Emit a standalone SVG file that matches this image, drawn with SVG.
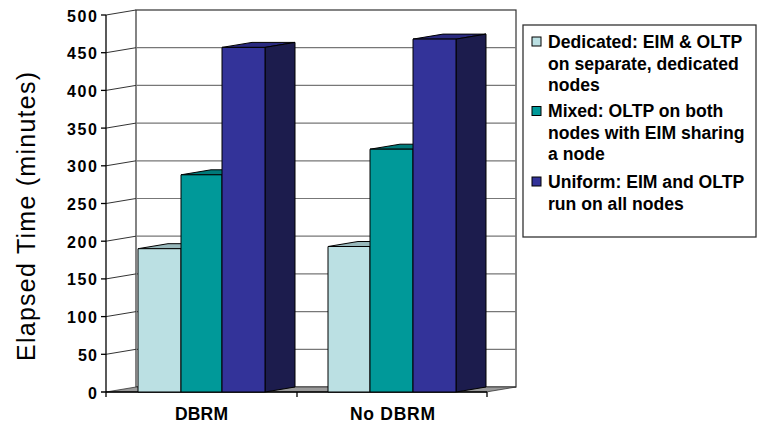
<svg xmlns="http://www.w3.org/2000/svg" width="759" height="424" viewBox="0 0 759 424">
<style>
.grid{stroke:#777;stroke-width:1.2;fill:none}
.wallgrid{stroke:#333;stroke-width:1;fill:none}
.axis{stroke:#000;stroke-width:1.3;fill:none}
.bar{stroke:#000;stroke-width:1;stroke-linejoin:round}
.num{font-family:"Liberation Sans",Arial,sans-serif;font-weight:bold;font-size:16px;fill:#000}
.cat{font-family:"Liberation Sans",Arial,sans-serif;font-weight:bold;font-size:17.5px;fill:#000}
.leg{font-family:"Liberation Sans",Arial,sans-serif;font-weight:bold;font-size:17.6px;fill:#000}
.title{font-family:"Liberation Sans",Arial,sans-serif;font-size:25px;fill:#000}
.c1{fill:#BBE0E3}.c1t{fill:#98b8bb}
.c2{fill:#009999}.c2t{fill:#007a7a}
.c3{fill:#333399}.c3t{fill:#2a2a80}.c3s{fill:#1c1c4d}
</style>
<rect width="759" height="424" fill="#fff"/>

<g id="walls">
  <rect x="136" y="10" width="380" height="377" fill="#fff" stroke="#333" stroke-width="1.2"/>
  <g class="grid">
    <line x1="136" y1="349.3" x2="516" y2="349.3"/>
    <line x1="136" y1="311.6" x2="516" y2="311.6"/>
    <line x1="136" y1="273.9" x2="516" y2="273.9"/>
    <line x1="136" y1="236.2" x2="516" y2="236.2"/>
    <line x1="136" y1="198.5" x2="516" y2="198.5"/>
    <line x1="136" y1="160.8" x2="516" y2="160.8"/>
    <line x1="136" y1="123.1" x2="516" y2="123.1"/>
    <line x1="136" y1="85.4" x2="516" y2="85.4"/>
    <line x1="136" y1="47.7" x2="516" y2="47.7"/>
  </g>
  <g class="wallgrid">
    <line x1="106" y1="354.3" x2="136" y2="349.3"/>
    <line x1="106" y1="316.6" x2="136" y2="311.6"/>
    <line x1="106" y1="278.9" x2="136" y2="273.9"/>
    <line x1="106" y1="241.2" x2="136" y2="236.2"/>
    <line x1="106" y1="203.5" x2="136" y2="198.5"/>
    <line x1="106" y1="165.8" x2="136" y2="160.8"/>
    <line x1="106" y1="128.1" x2="136" y2="123.1"/>
    <line x1="106" y1="90.4" x2="136" y2="85.4"/>
    <line x1="106" y1="52.7" x2="136" y2="47.7"/>
    <line x1="106" y1="15" x2="136" y2="10"/>
  </g>
  <polygon points="106,392 486,392 516,387 136,387" fill="#9a9a9a" stroke="#333" stroke-width="0.8"/>
</g>

<g id="axes">
  <line class="axis" x1="106" y1="15" x2="106" y2="397"/>
  <line class="axis" x1="101" y1="392" x2="487" y2="392"/>
  <g class="axis">
    <line x1="101" y1="15" x2="106" y2="15"/>
    <line x1="101" y1="52.7" x2="106" y2="52.7"/>
    <line x1="101" y1="90.4" x2="106" y2="90.4"/>
    <line x1="101" y1="128.1" x2="106" y2="128.1"/>
    <line x1="101" y1="165.8" x2="106" y2="165.8"/>
    <line x1="101" y1="203.5" x2="106" y2="203.5"/>
    <line x1="101" y1="241.2" x2="106" y2="241.2"/>
    <line x1="101" y1="278.9" x2="106" y2="278.9"/>
    <line x1="101" y1="316.6" x2="106" y2="316.6"/>
    <line x1="101" y1="354.3" x2="106" y2="354.3"/>
    <line x1="297" y1="392" x2="297" y2="397"/>
    <line x1="487" y1="392" x2="487" y2="397"/>
  </g>
  <g id="y-labels">
    <text class="num" x="67" y="21.5" textLength="30" lengthAdjust="spacing">500</text>
    <text class="num" x="67" y="59.2" textLength="30" lengthAdjust="spacing">450</text>
    <text class="num" x="67" y="96.9" textLength="30" lengthAdjust="spacing">400</text>
    <text class="num" x="67" y="134.6" textLength="30" lengthAdjust="spacing">350</text>
    <text class="num" x="67" y="172.3" textLength="30" lengthAdjust="spacing">300</text>
    <text class="num" x="67" y="210" textLength="30" lengthAdjust="spacing">250</text>
    <text class="num" x="67" y="247.7" textLength="30" lengthAdjust="spacing">200</text>
    <text class="num" x="67" y="285.4" textLength="30" lengthAdjust="spacing">150</text>
    <text class="num" x="67" y="323.1" textLength="30" lengthAdjust="spacing">100</text>
    <text class="num" x="78" y="360.8" textLength="19" lengthAdjust="spacing">50</text>
    <text class="num" x="88" y="398.5">0</text>
  </g>
  <text class="title" transform="translate(35,361) rotate(-90)" textLength="289" lengthAdjust="spacing">Elapsed Time (minutes)</text>
  <text class="cat" x="175" y="420" textLength="53" lengthAdjust="spacing">DBRM</text>
  <text class="cat" x="350" y="420" textLength="85" lengthAdjust="spacing">No DBRM</text>
</g>

<g id="series-dbrm">
  <polygon class="bar c1t" points="138,248.7 181,248.7 211,243.7 168,243.7"/>
  <rect class="bar c1" x="138" y="248.7" width="43" height="143.3"/>
  <polygon class="bar c2t" points="181,174.8 222,174.8 252,169.8 211,169.8"/>
  <rect class="bar c2" x="181" y="174.8" width="41" height="217.2"/>
  <polygon class="bar c3t" points="222,47.4 265,47.4 295,42.4 252,42.4"/>
  <polygon class="bar c3s" points="265,47.4 295,42.4 295,387 265,392"/>
  <rect class="bar c3" x="222" y="47.4" width="43" height="344.6"/>
</g>

<g id="series-nodbrm">
  <polygon class="bar c1t" points="328,246.5 370,246.5 400,241.5 358,241.5"/>
  <rect class="bar c1" x="328" y="246.5" width="42" height="145.5"/>
  <polygon class="bar c2t" points="370,149.2 413,149.2 443,144.2 400,144.2"/>
  <rect class="bar c2" x="370" y="149.2" width="43" height="242.8"/>
  <polygon class="bar c3t" points="413,39.1 456,39.1 486,34.1 443,34.1"/>
  <polygon class="bar c3s" points="456,39.1 486,34.1 486,387 456,392"/>
  <rect class="bar c3" x="413" y="39.1" width="43" height="352.9"/>
</g>

<g id="legend">
  <rect x="523" y="25" width="233" height="212" fill="#fff" stroke="#333" stroke-width="1.3"/>
  <g id="legend-dedicated">
    <rect class="c1" x="532" y="37" width="9" height="9" stroke="#000" stroke-width="1"/>
    <text class="leg" x="548" y="47.7">Dedicated: EIM &amp; OLTP</text>
    <text class="leg" x="548" y="69.5">on separate, dedicated</text>
    <text class="leg" x="548" y="91">nodes</text>
  </g>
  <g id="legend-mixed">
    <rect class="c2" x="532" y="106.5" width="9" height="9" stroke="#000" stroke-width="1"/>
    <text class="leg" x="548" y="117">Mixed: OLTP on both</text>
    <text class="leg" x="548" y="138.5">nodes with EIM sharing</text>
    <text class="leg" x="548" y="160">a node</text>
  </g>
  <g id="legend-uniform">
    <rect class="c3" x="532" y="177" width="9" height="9" stroke="#000" stroke-width="1"/>
    <text class="leg" x="548" y="188">Uniform: EIM and OLTP</text>
    <text class="leg" x="548" y="209.5">run on all nodes</text>
  </g>
</g>
<g id="connectors"/>
</svg>
